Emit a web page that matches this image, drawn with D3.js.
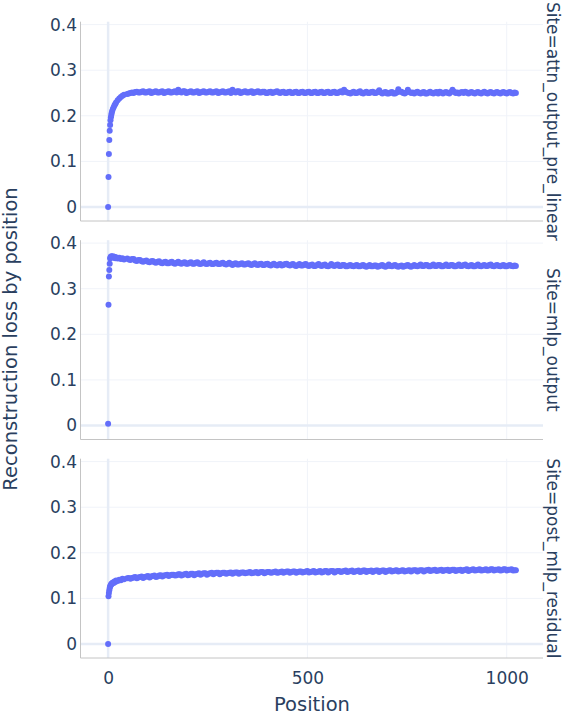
<!DOCTYPE html>
<html>
<head>
<meta charset="utf-8">
<script src="https://cdn.jsdelivr.net/npm/d3@7"></script>
<style>
body { margin: 0; background: #fff; }
svg { display: block; font-family: "DejaVu Sans", Verdana, sans-serif; }
</style>
</head>
<body>
<script>
var positions = [0,1,2,3,4,5,6,7,8,9,10,
    12,14,16,18,20,24,28,32,36,40,
    48,52,56,60,64,68,72,76,80,84,88,92,96,100,104,108,112,116,120,124,
    128,132,136,140,144,148,152,156,160,164,168,172,176,180,184,188,192,196,200,204,
    208,212,216,220,224,228,232,236,240,244,248,252,256,260,264,268,272,276,280,284,
    288,292,296,300,304,308,312,316,320,324,328,332,336,340,344,348,352,356,360,364,
    368,372,376,380,384,388,392,396,400,404,408,412,416,420,424,428,432,436,440,444,
    448,452,456,460,464,468,472,476,480,484,488,492,496,500,504,508,512,516,520,524,
    528,532,536,540,544,548,552,556,560,564,568,572,576,580,584,588,592,596,600,604,
    608,612,616,620,624,628,632,636,640,644,648,652,656,660,664,668,672,676,680,684,
    688,692,696,700,704,708,712,716,720,724,728,732,736,740,744,748,752,756,760,764,
    768,772,776,780,784,788,792,796,800,804,808,812,816,820,824,828,832,836,840,844,
    848,852,856,860,864,868,872,876,880,884,888,892,896,900,904,908,912,916,920,924,
    928,932,936,940,944,948,952,956,960,964,968,972,976,980,984,988,992,996,1000,1004,
    1008,1012,1016,1020,1023];

var attnLoss = [0,0.066,0.116,0.147,0.167,0.180,0.190,0.197,0.202,0.206,0.210,
    0.215,0.219,0.223,0.226,0.229,0.234,0.238,0.241,0.244,0.246,
    0.248,0.249,0.250,0.251,0.250,0.252,0.253,0.251,0.251,0.253,0.254,0.251,0.251,0.253,0.254,0.250,0.251,0.253,0.254,0.251,
    0.251,0.253,0.254,0.250,0.251,0.253,0.254,0.251,0.251,0.253,0.254,0.251,0.257,0.253,0.251,0.254,0.254,0.250,0.251,0.253,
    0.254,0.251,0.251,0.253,0.254,0.250,0.251,0.253,0.254,0.251,0.251,0.253,0.254,0.251,0.251,0.253,0.254,0.250,0.251,0.253,
    0.254,0.251,0.251,0.253,0.254,0.250,0.257,0.253,0.251,0.254,0.254,0.250,0.251,0.253,0.254,0.251,0.251,0.253,0.254,0.250,
    0.251,0.253,0.254,0.251,0.251,0.253,0.253,0.250,0.250,0.252,0.253,0.250,0.251,0.253,0.254,0.251,0.250,0.252,0.253,0.250,
    0.250,0.252,0.253,0.250,0.250,0.252,0.253,0.250,0.250,0.252,0.253,0.250,0.250,0.252,0.253,0.250,0.250,0.252,0.253,0.250,
    0.250,0.252,0.253,0.250,0.250,0.252,0.253,0.250,0.250,0.252,0.253,0.250,0.250,0.252,0.254,0.251,0.257,0.253,0.251,0.250,
    0.249,0.251,0.253,0.250,0.250,0.252,0.254,0.250,0.249,0.251,0.253,0.250,0.250,0.252,0.253,0.250,0.250,0.252,0.256,0.251,
    0.249,0.251,0.252,0.249,0.249,0.251,0.252,0.249,0.249,0.251,0.258,0.253,0.253,0.250,0.249,0.251,0.257,0.252,0.250,0.251,
    0.249,0.251,0.253,0.250,0.249,0.251,0.252,0.249,0.249,0.251,0.253,0.250,0.249,0.251,0.252,0.249,0.253,0.251,0.249,0.251,
    0.252,0.250,0.249,0.252,0.257,0.253,0.250,0.251,0.249,0.251,0.252,0.250,0.253,0.251,0.249,0.251,0.252,0.250,0.249,0.251,
    0.252,0.250,0.249,0.251,0.253,0.250,0.249,0.251,0.252,0.250,0.249,0.251,0.252,0.250,0.249,0.251,0.252,0.250,0.249,0.251,
    0.252,0.250,0.249,0.251,0.250];

var mlpLoss = [0.004,0.265,0.327,0.341,0.355,0.366,0.369,0.370,0.371,0.370,0.370,
    0.371,0.368,0.370,0.367,0.369,0.366,0.368,0.365,0.367,0.364,
    0.366,0.364,0.363,0.365,0.365,0.362,0.361,0.363,0.363,0.360,0.359,0.361,0.362,0.359,0.358,0.360,0.361,0.358,0.357,0.359,
    0.360,0.357,0.356,0.358,0.359,0.356,0.356,0.358,0.359,0.356,0.355,0.357,0.359,0.356,0.355,0.357,0.358,0.355,0.355,0.357,
    0.358,0.355,0.355,0.357,0.358,0.355,0.354,0.356,0.358,0.355,0.354,0.356,0.357,0.354,0.354,0.356,0.357,0.354,0.354,0.356,
    0.357,0.354,0.353,0.355,0.357,0.354,0.352,0.355,0.356,0.353,0.353,0.355,0.356,0.353,0.353,0.355,0.356,0.353,0.352,0.354,
    0.356,0.353,0.352,0.354,0.355,0.352,0.352,0.354,0.355,0.352,0.351,0.353,0.355,0.352,0.351,0.353,0.354,0.351,0.352,0.354,
    0.355,0.352,0.351,0.353,0.354,0.351,0.350,0.352,0.354,0.351,0.351,0.353,0.354,0.351,0.350,0.352,0.353,0.350,0.350,0.352,
    0.354,0.351,0.350,0.352,0.353,0.350,0.349,0.351,0.354,0.351,0.350,0.352,0.353,0.350,0.350,0.352,0.352,0.349,0.349,0.351,
    0.352,0.350,0.349,0.351,0.352,0.349,0.349,0.351,0.352,0.349,0.348,0.350,0.352,0.349,0.349,0.351,0.351,0.348,0.349,0.351,
    0.352,0.349,0.348,0.350,0.353,0.350,0.349,0.351,0.352,0.349,0.348,0.350,0.351,0.348,0.349,0.351,0.352,0.349,0.348,0.350,
    0.352,0.350,0.349,0.351,0.353,0.350,0.350,0.352,0.352,0.349,0.349,0.351,0.353,0.350,0.350,0.352,0.352,0.349,0.349,0.351,
    0.353,0.350,0.350,0.352,0.352,0.349,0.349,0.351,0.353,0.350,0.350,0.352,0.353,0.350,0.349,0.351,0.352,0.349,0.349,0.351,
    0.353,0.350,0.349,0.351,0.352,0.350,0.350,0.352,0.353,0.350,0.349,0.351,0.352,0.350,0.349,0.351,0.352,0.349,0.349,0.351,
    0.352,0.350,0.349,0.351,0.350];

var residLoss = [0,0.105,0.112,0.118,0.123,0.126,0.128,0.130,0.131,0.132,0.133,
    0.135,0.134,0.137,0.136,0.139,0.138,0.141,0.140,0.143,0.142,
    0.144,0.145,0.143,0.145,0.146,0.147,0.144,0.146,0.147,0.148,0.145,0.147,0.148,0.149,0.146,0.148,0.149,0.150,0.147,0.148,
    0.150,0.151,0.148,0.150,0.151,0.152,0.149,0.151,0.152,0.152,0.150,0.151,0.153,0.153,0.150,0.152,0.153,0.154,0.151,0.152,
    0.154,0.154,0.151,0.153,0.154,0.155,0.152,0.154,0.155,0.155,0.152,0.154,0.155,0.156,0.153,0.155,0.156,0.156,0.153,0.155,
    0.156,0.156,0.154,0.155,0.156,0.157,0.154,0.156,0.157,0.157,0.154,0.156,0.157,0.157,0.155,0.156,0.157,0.158,0.155,0.156,
    0.157,0.158,0.155,0.157,0.158,0.158,0.155,0.157,0.158,0.158,0.156,0.157,0.158,0.159,0.156,0.157,0.158,0.159,0.156,0.158,
    0.159,0.159,0.156,0.158,0.159,0.159,0.156,0.158,0.159,0.159,0.157,0.158,0.159,0.160,0.157,0.158,0.159,0.160,0.157,0.158,
    0.159,0.160,0.157,0.158,0.160,0.160,0.157,0.159,0.160,0.160,0.157,0.159,0.160,0.160,0.158,0.159,0.160,0.161,0.158,0.159,
    0.160,0.161,0.158,0.159,0.160,0.161,0.158,0.159,0.161,0.161,0.158,0.160,0.160,0.161,0.158,0.160,0.161,0.161,0.158,0.160,
    0.161,0.161,0.158,0.160,0.161,0.162,0.159,0.160,0.161,0.162,0.159,0.160,0.161,0.162,0.159,0.160,0.161,0.162,0.159,0.161,
    0.162,0.162,0.159,0.161,0.162,0.162,0.159,0.161,0.162,0.163,0.160,0.161,0.162,0.163,0.160,0.161,0.162,0.163,0.160,0.162,
    0.162,0.163,0.160,0.162,0.163,0.163,0.160,0.162,0.162,0.163,0.160,0.162,0.163,0.164,0.160,0.162,0.163,0.164,0.161,0.162,
    0.163,0.164,0.161,0.162,0.163,0.164,0.161,0.162,0.164,0.164,0.161,0.163,0.163,0.164,0.161,0.162,0.164,0.164,0.161,0.163,
    0.163,0.164,0.161,0.162,0.162];

var sites = ["attn_output_pre_linear", "mlp_output", "post_mlp_residual"];
var series = [attnLoss, mlpLoss, residLoss];
var yTicks = [0, 0.1, 0.2, 0.3, 0.4];
var xTicks = [0, 500, 1000];

// dimensions
var width = 562;
var height = 716;
var left = 81, right = 543;
var panelH = 199.3;
var panelStep = 218.5;
var firstTop = 21.7;

var textColor = "#2a3f5f";
var markerColor = "#636efa";

var svg = d3.select("body")
    .append("svg")
    .attr("width", width)
    .attr("height", height);

svg.append("rect")
    .attr("width", width)
    .attr("height", height)
    .attr("fill", "#fff");

var x = d3.scaleLinear()
    .domain([-68, 1091])
    .range([left, right]);

function drawPanel(i) {
    var panelTop = firstTop + i * panelStep;
    var panelBottom = panelTop + panelH;
    var y = d3.scaleLinear()
        .domain([-0.0307, 0.4064])
        .range([panelBottom, panelTop]);

    var g = svg.append("g");

    // grid
    g.selectAll(".ygrid")
        .data(yTicks.filter(function(d) { return d !== 0; }))
        .enter().append("line")
        .attr("x1", left).attr("x2", right)
        .attr("y1", function(d) { return y(d); })
        .attr("y2", function(d) { return y(d); })
        .attr("stroke", "#f0f3f9")
        .attr("stroke-width", 1);

    g.selectAll(".xgrid")
        .data(xTicks.filter(function(d) { return d !== 0; }))
        .enter().append("line")
        .attr("x1", function(d) { return x(d); })
        .attr("x2", function(d) { return x(d); })
        .attr("y1", panelTop).attr("y2", panelBottom)
        .attr("stroke", "#f0f3f9")
        .attr("stroke-width", 1);

    // zero lines
    g.append("line")
        .attr("x1", left).attr("x2", right)
        .attr("y1", y(0)).attr("y2", y(0))
        .attr("stroke", "#e6ecf6")
        .attr("stroke-width", 2.5);

    g.append("line")
        .attr("x1", x(0)).attr("x2", x(0))
        .attr("y1", panelTop).attr("y2", panelBottom)
        .attr("stroke", "#e6ecf6")
        .attr("stroke-width", 2.5);

    // axis lines
    g.append("line")
        .attr("x1", left - 0.5).attr("x2", left - 0.5)
        .attr("y1", panelTop).attr("y2", panelBottom)
        .attr("stroke", "#c4c4c4");
    g.append("line")
        .attr("x1", left - 0.5).attr("x2", right)
        .attr("y1", panelBottom).attr("y2", panelBottom)
        .attr("stroke", "#c4c4c4");

    // y tick labels
    var yAxis = g.append("g")
        .attr("transform", "translate(" + left + ",0)")
        .call(d3.axisLeft(y)
            .tickValues(yTicks)
            .tickSize(0)
            .tickPadding(4)
            .tickFormat(function(d) { return d === 0 ? "0" : d3.format(".1f")(d); }));
    yAxis.select(".domain").remove();
    yAxis.selectAll("text")
        .attr("fill", textColor)
        .style("font-size", "17px")
        .style("font-family", "DejaVu Sans, Verdana, sans-serif");

    // points
    g.selectAll(".dot")
        .data(series[i])
        .enter().append("circle")
        .attr("cx", function(d, j) { return x(positions[j]); })
        .attr("cy", function(d) { return y(d); })
        .attr("r", 3)
        .attr("fill", markerColor);

    // facet label
    g.append("text")
        .attr("transform", "translate(547," + (panelTop + panelH / 2) + ") rotate(90)")
        .attr("text-anchor", "middle")
        .attr("fill", textColor)
        .style("font-size", "17px")
        .text("Site=" + sites[i]);

    if (i === sites.length - 1) {
        var xAxis = g.append("g")
            .attr("transform", "translate(0," + panelBottom + ")")
            .call(d3.axisBottom(x)
                .tickValues(xTicks)
                .tickSize(0)
                .tickPadding(14)
                .tickFormat(d3.format("d")));
        xAxis.select(".domain").remove();
        xAxis.selectAll("text")
            .attr("fill", textColor)
            .style("font-size", "17px")
            .style("font-family", "DejaVu Sans, Verdana, sans-serif");
    }
}

for (var i = 0; i < sites.length; i++) {
    drawPanel(i);
}

// axis titles
svg.append("text")
    .attr("x", (left + right) / 2)
    .attr("y", 711)
    .attr("text-anchor", "middle")
    .attr("fill", textColor)
    .style("font-size", "19.5px")
    .text("Position");

svg.append("text")
    .attr("transform", "translate(17,339) rotate(-90)")
    .attr("text-anchor", "middle")
    .attr("fill", textColor)
    .style("font-size", "19.5px")
    .text("Reconstruction loss by position");
</script>
</body>
</html>
